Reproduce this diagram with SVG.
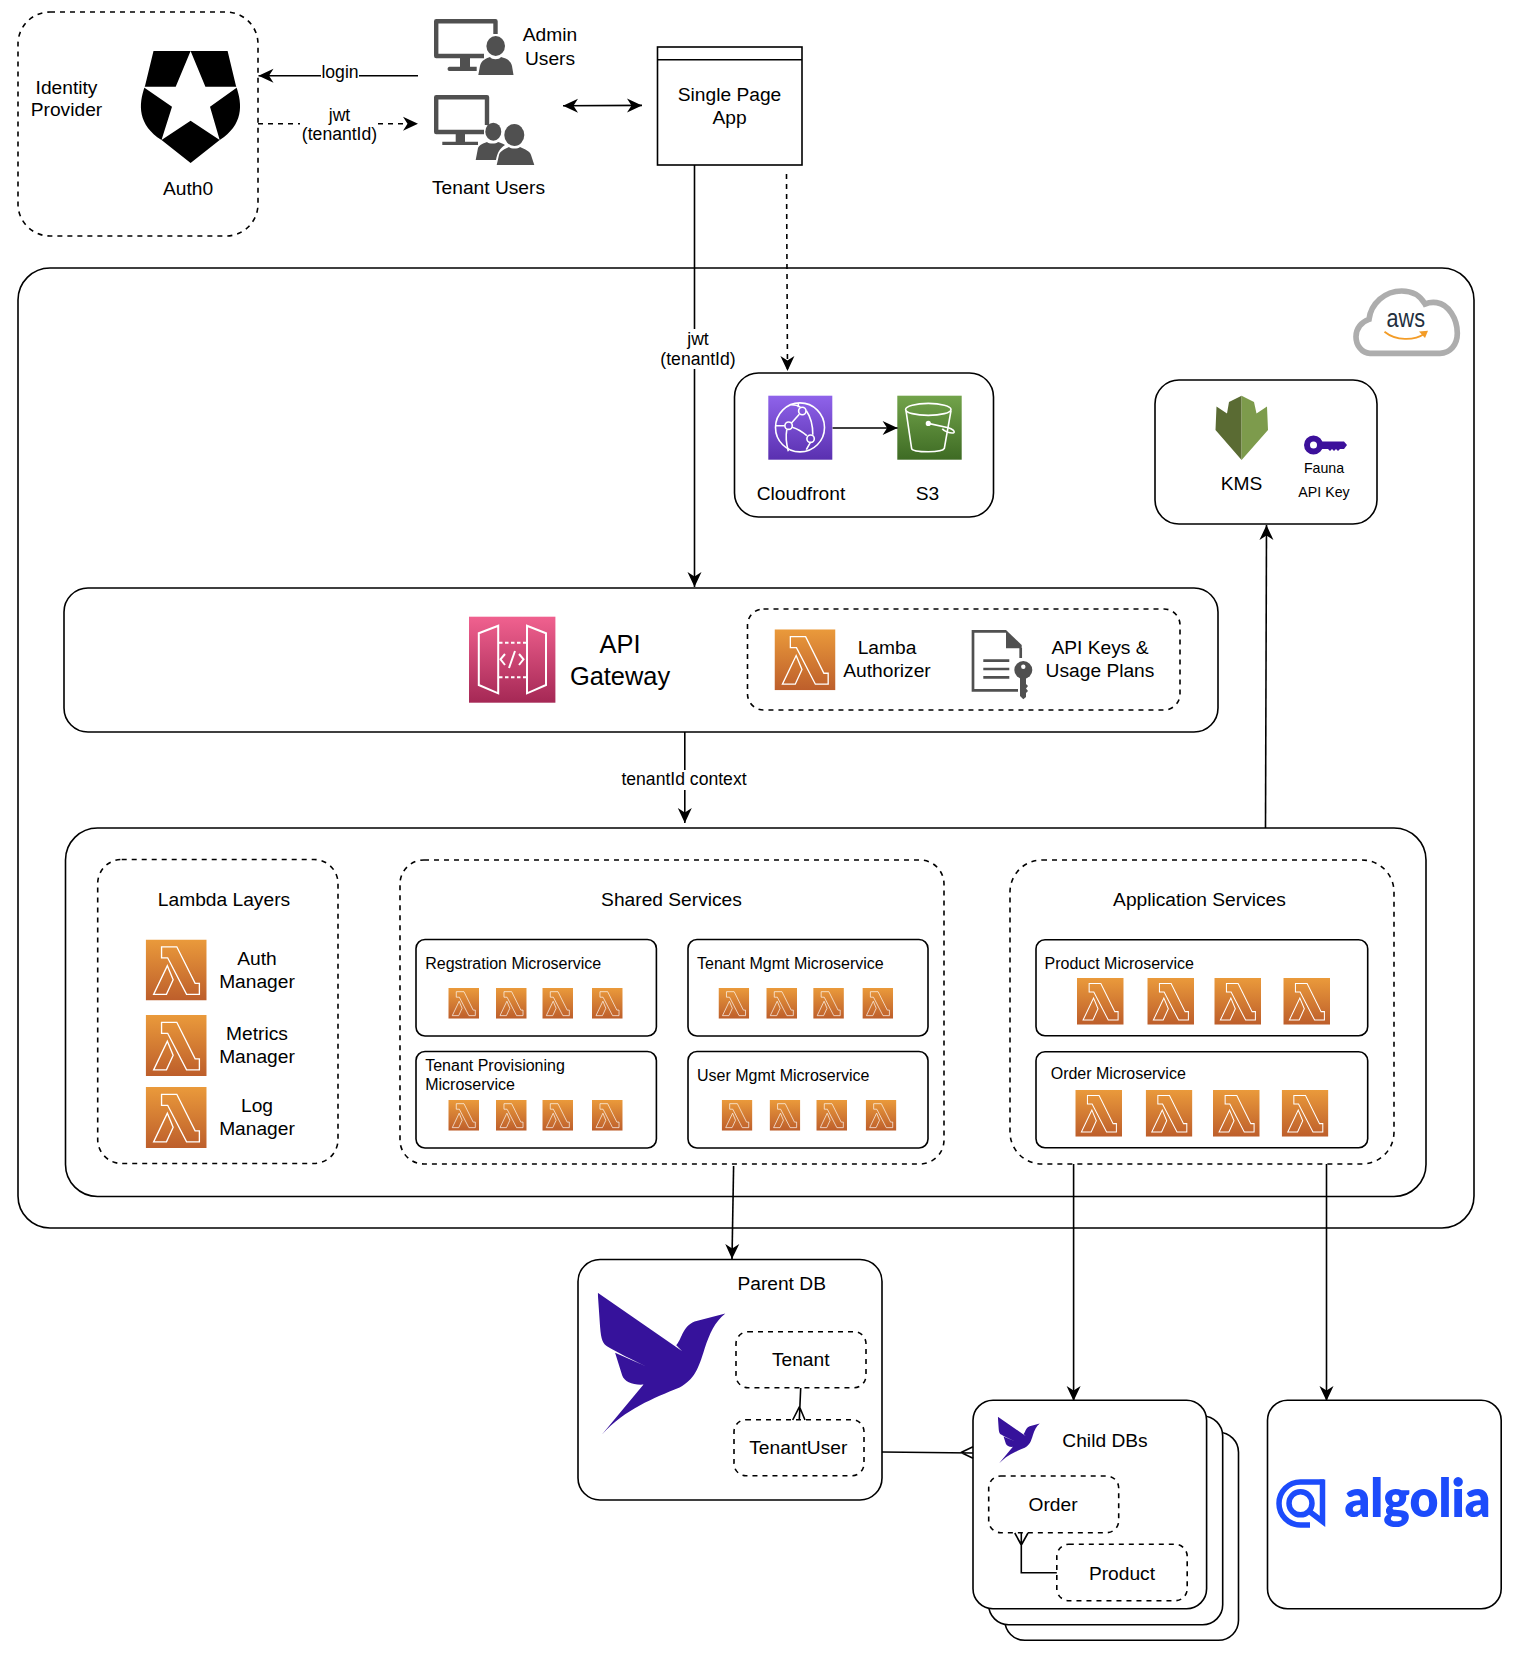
<svg xmlns="http://www.w3.org/2000/svg" width="1522" height="1654" viewBox="0 0 1522 1654">
<style>
text{font-family:"Liberation Sans",Arial,sans-serif;fill:#000;dominant-baseline:central}
.c{text-anchor:middle}
.f19{font-size:19.2px}.f17{font-size:17.6px}.f16{font-size:16px}.f14{font-size:14.2px}.f24{font-size:25.400px}
.box{fill:#fff;stroke:#000;stroke-width:1.6}
.dash{fill:#fff;stroke:#000;stroke-width:1.6;stroke-dasharray:5 5}
.ln{fill:none;stroke:#000;stroke-width:1.6}
.lnd{fill:none;stroke:#000;stroke-width:1.6;stroke-dasharray:5 5}
.gl{fill:none;stroke:#fff;stroke-width:1.6;stroke-linejoin:miter}
.gray{fill:#505050}
</style>
<defs>
<linearGradient id="gO" x1="0" y1="0" x2="0" y2="1"><stop offset="0" stop-color="#EA9A3B"/><stop offset="1" stop-color="#BD5E2B"/></linearGradient>
<linearGradient id="gP" x1="0" y1="0" x2="0" y2="1"><stop offset="0" stop-color="#8F63EA"/><stop offset="1" stop-color="#5A30B0"/></linearGradient>
<linearGradient id="gG" x1="0" y1="0" x2="0" y2="1"><stop offset="0" stop-color="#72A34A"/><stop offset="1" stop-color="#3E6B24"/></linearGradient>
<linearGradient id="gK" x1="0" y1="0" x2="0" y2="1"><stop offset="0" stop-color="#F0618F"/><stop offset="1" stop-color="#A52855"/></linearGradient>
<symbol id="lambda" viewBox="0 0 100 100">
<rect width="100" height="100" fill="url(#gO)"/>
<path d="M26 12H51L81 72H88V90H67L36 30H26ZM35.500 43L45 66L34 90H13Z" fill="none" stroke="#fff" stroke-width="2.200"/>
</symbol>
<symbol id="bird" viewBox="85 128 382 425">
<path fill="#36129B" d="M85 128L338 303L320 285C340 260 338 230 375 214L467 190C435 215 420 250 405 295C385 360 375 385 330 412C250 445 170 475 97 553L222 403C190 405 165 395 158 375L137 308L232 350C190 330 140 305 115 290C100 280 95 270 92 230Z"/>
</symbol>
<marker id="ah" viewBox="-16 -8 18 16" refX="0" refY="0" markerWidth="18" markerHeight="16" markerUnits="userSpaceOnUse" orient="auto">
<path d="M-15 -7L0 0L-15 7L-10.500 0Z" fill="#000"/>
</marker>
<marker id="ahs" viewBox="-16 -8 18 16" refX="0" refY="0" markerWidth="18" markerHeight="16" markerUnits="userSpaceOnUse" orient="auto-start-reverse">
<path d="M-15 -7L0 0L-15 7L-10.500 0Z" fill="#000"/>
</marker>
</defs>

<g id="identity-provider">
<rect class="dash" x="18" y="12" width="240" height="224" rx="32"/>
<text class="f19 c" x="66.500" y="87">Identity</text>
<text class="f19 c" x="66.500" y="109">Provider</text>
<path fill="#000" d="M153.500 51H227.600L236 86C243 105 243 125 219.700 140L190.600 163L161.500 140C138 125 138 105 145 86Z"/>
<path fill="#fff" d="M190.600 51L205.400 86.700H238L210 106.700L219.700 140L190.600 120.700L161.500 140L172 106.700L143 86.700H175.700Z"/>
<text class="f19 c" x="188" y="188.500">Auth0</text>
</g>

<g id="admin-users">
<path fill="none" stroke="#505050" stroke-width="4.400" stroke-linejoin="round" d="M495.500 34V21.200H436.200V56H484"/>
<path class="gray" d="M460 58H470V66.700H476.700V71H449.500C447 71 447 66.700 449.500 66.700H460Z"/>
<ellipse class="gray" cx="495.700" cy="46" rx="9.300" ry="10"/>
<path class="gray" d="M478.300 75L480 66C481 60 487 58 490 57C492 60 499 60 501 57C505 58 511 60 512 66L513.500 75Z"/>
<text class="f19 c" x="550" y="34">Admin</text>
<text class="f19 c" x="550" y="58">Users</text>
</g>

<g id="tenant-users">
<path fill="none" stroke="#505050" stroke-width="4.400" stroke-linejoin="round" d="M487 125V97.200H436.200V132H484"/>
<path class="gray" d="M455.700 134H465V141.700H478V145H442.300V141.700H455.700Z"/>
<ellipse class="gray" cx="493.300" cy="131.700" rx="8" ry="9"/>
<path class="gray" d="M475.700 160L478 148C479 145 484 143 487 142C489 144 496 144 498 142C500 142.500 503 143.500 505 145C500 148 497 153 496 160Z"/>
<ellipse class="gray" cx="514.300" cy="135" rx="10" ry="11"/>
<path class="gray" d="M496.700 165L499 155C500 151 505 149 509 147C511 149 518 149 520 147C524 149 530 151 531 155L534.300 165Z"/>
<text class="f19 c" x="488.500" y="187">Tenant Users</text>
</g>

<g id="single-page-app">
<rect class="box" x="657.500" y="47" width="144.500" height="118"/>
<path class="ln" d="M657.500 59.700H802"/>
<text class="f19 c" x="729.500" y="94">Single Page</text>
<text class="f19 c" x="729.500" y="117">App</text>
</g>

<g id="aws-cloud">
<rect class="box" x="18" y="268" width="1456" height="960" rx="32"/>
<path transform="translate(1345 280) scale(.3333)" fill="none" stroke="#ADADAD" stroke-width="17" d="M75 220C50 220 33 195 33 170C33 145 50 125 72 118C78 70 120 33 170 33C200 33 225 45 240 72C250 68 262 66 275 68C310 73 337 115 337 160C337 195 315 220 285 220Z"/>
<text x="1386.500" y="326.700" font-size="25.700" textLength="38.500" lengthAdjust="spacingAndGlyphs" style="fill:#232F3E;dominant-baseline:alphabetic">aws</text>
<path fill="none" stroke="#F39C27" stroke-width="1.800" d="M1384.500 331.700C1396 341 1414 341 1425 333.500"/>
<path fill="#F39C27" d="M1419 331.500L1428 330.700L1425 338Z"/>
</g>

<g id="cdn">
<rect class="box" x="734.500" y="373" width="259" height="144" rx="24"/>
<rect x="768.300" y="395.700" width="64" height="64" fill="url(#gP)"/>
<g class="gl" transform="translate(768.300 395.700)">
<circle cx="31.700" cy="31.700" r="24.500"/>
<circle cx="34" cy="15.300" r="3.700"/><circle cx="20.300" cy="30" r="3.700"/><circle cx="42.300" cy="43" r="3.700"/>
<path d="M31 18.500L23 27.500M24 31.500C29 33 34 36 38.500 40M38 15C43 22 44.500 30 44.500 39M18.500 34C17 42 18.500 50 20 55.500M42 47L38 54M7 30H16.500M30 7.500V11.500M23 9C27 9 30 10 32 11.500"/>
</g>
<rect x="897.300" y="395.700" width="64.400" height="64" fill="url(#gG)"/>
<g class="gl" transform="translate(897.300 395.700)">
<ellipse cx="31" cy="13.700" rx="22.700" ry="6"/>
<path d="M8.700 15L14.300 52.700C15 55 23 56 31 56C39 56 46 55 47 52.700L53.700 15"/>
<circle cx="31" cy="27.700" r="1.800" fill="#fff"/>
<path d="M31 27.700L51 32C55 33 58 36 56.500 37C54 38 47 36 45 33"/>
</g>
<text class="f19 c" x="801" y="493">Cloudfront</text>
<text class="f19 c" x="927.500" y="493">S3</text>
</g>

<g id="kms">
<rect class="box" x="1155" y="380" width="222" height="144" rx="24"/>
<path fill="#5A6B33" d="M1241.600 395.700L1229 402L1227 413.500L1216.500 406.500L1215.500 430L1241.600 460Z"/>
<path fill="#7D9B4C" d="M1241.600 395.700L1254 402L1256.500 413.500L1267 406.500L1268 430L1241.600 460Z"/>
<text class="f19 c" x="1241.500" y="483">KMS</text>
<circle cx="1313.500" cy="445" r="6.500" fill="#fff" stroke="#3C109B" stroke-width="6"/>
<path fill="#3C109B" d="M1318 441.500H1344L1347 445L1344 449H1340L1338 451L1336 449L1334 451L1332 449L1330 451L1328 449H1318Z"/>
<text class="f14 c" x="1324" y="468">Fauna</text>
<text class="f14 c" x="1324" y="492">API Key</text>
</g>

<g id="api-gateway">
<rect class="box" x="64" y="588" width="1154" height="144" rx="24"/>
<rect x="469" y="616.700" width="86.400" height="86" fill="url(#gK)"/>
<path fill="none" stroke="#fff" stroke-width="2" d="M498.200 625.700V693.300L478.800 685V633.300ZM527 625.700V693.300L546 685V633.300Z"/>
<path fill="none" stroke="#fff" stroke-width="2" stroke-dasharray="3.500 2.500" d="M499 642.700H527M499 677.300H527"/>
<path fill="none" stroke="#fff" stroke-width="2" d="M505 654L500.500 659.300L505 665M519 654L523.500 659.300L519 665M515 651L509 668"/>
<text class="f24 c" x="620" y="644">API</text>
<text class="f24 c" x="620" y="675.500">Gateway</text>
</g>

<g id="api-gateway-extras">
<rect class="dash" x="747.500" y="609" width="432.500" height="101" rx="16"/>
<use href="#lambda" x="774.500" y="629.300" width="61" height="61"/>
<text class="f19 c" x="887" y="647">Lamba</text>
<text class="f19 c" x="887" y="670">Authorizer</text>
<path fill="none" stroke="#505050" stroke-width="2.700" d="M1020.700 648V658M1006 631.300H973V690.400H1018"/>
<path fill="#505050" d="M1006 630L1021.700 645V648.300H1006Z"/>
<path fill="none" stroke="#505050" stroke-width="2.700" d="M983.300 660.700H1009.300M983.300 669H1009.300M983.300 677.300H1009.300"/>
<circle class="gray" cx="1023.300" cy="670" r="9"/>
<circle cx="1023.300" cy="666.700" r="2.200" fill="#fff"/>
<path class="gray" d="M1020 676H1026V684L1028 686L1026 688.500L1028 691L1026 693L1026 697L1023.300 699.300L1020 696Z"/>
<text class="f19 c" x="1100" y="647">API Keys &amp;</text>
<text class="f19 c" x="1100" y="670">Usage Plans</text>
</g>

<g id="services">
<rect class="box" x="65.500" y="828" width="1360.500" height="368.500" rx="32"/>
</g>

<g id="lambda-layers">
<rect class="dash" x="97.700" y="859.500" width="240.300" height="304" rx="24"/>
<text class="f19 c" x="224" y="899">Lambda Layers</text>
<use href="#lambda" x="145.700" y="939.500" width="61" height="61"/>
<use href="#lambda" x="145.700" y="1015" width="61" height="61"/>
<use href="#lambda" x="145.700" y="1087" width="61" height="61"/>
<text class="f19 c" x="257" y="958">Auth</text>
<text class="f19 c" x="257" y="981">Manager</text>
<text class="f19 c" x="257" y="1033">Metrics</text>
<text class="f19 c" x="257" y="1056">Manager</text>
<text class="f19 c" x="257" y="1105">Log</text>
<text class="f19 c" x="257" y="1128">Manager</text>
</g>

<g id="shared-services">
<rect class="dash" x="400" y="860" width="544" height="304" rx="24"/>
<text class="f19 c" x="671.500" y="899">Shared Services</text>
</g>

<g id="registration-microservice">
<rect class="box" x="416" y="939.500" width="240.400" height="96.500" rx="9"/>
<text class="f16" x="425.200" y="963">Regstration Microservice</text>
<use href="#lambda" x="448.300" y="988" width="30.700" height="30.700"/>
<use href="#lambda" x="496" y="988" width="30.700" height="30.700"/>
<use href="#lambda" x="542.300" y="988" width="30.700" height="30.700"/>
<use href="#lambda" x="592" y="988" width="30.700" height="30.700"/>
</g>

<g id="tenant-mgmt-microservice">
<rect class="box" x="688" y="939.500" width="240" height="96.500" rx="9"/>
<text class="f16" x="697" y="963">Tenant Mgmt Microservice</text>
<use href="#lambda" x="718.500" y="988" width="30.700" height="30.700"/>
<use href="#lambda" x="766.300" y="988" width="30.700" height="30.700"/>
<use href="#lambda" x="813.200" y="988" width="30.700" height="30.700"/>
<use href="#lambda" x="862.400" y="988" width="30.700" height="30.700"/>
</g>

<g id="tenant-provisioning-microservice">
<rect class="box" x="416" y="1051.500" width="240.400" height="96.500" rx="9"/>
<text class="f16" x="425.200" y="1065">Tenant Provisioning</text>
<text class="f16" x="425.200" y="1084">Microservice</text>
<use href="#lambda" x="448.300" y="1100" width="30.700" height="30.700"/>
<use href="#lambda" x="496" y="1100" width="30.700" height="30.700"/>
<use href="#lambda" x="542.300" y="1100" width="30.700" height="30.700"/>
<use href="#lambda" x="592" y="1100" width="30.700" height="30.700"/>
</g>

<g id="user-mgmt-microservice">
<rect class="box" x="688" y="1051.500" width="240" height="96.500" rx="9"/>
<text class="f16" x="697" y="1075">User Mgmt Microservice</text>
<use href="#lambda" x="721.700" y="1100" width="30.700" height="30.700"/>
<use href="#lambda" x="769.600" y="1100" width="30.700" height="30.700"/>
<use href="#lambda" x="816.300" y="1100" width="30.700" height="30.700"/>
<use href="#lambda" x="865.700" y="1100" width="30.700" height="30.700"/>
</g>

<g id="application-services">
<rect class="dash" x="1010" y="860" width="384" height="304" rx="32"/>
<text class="f19 c" x="1199.500" y="899.500">Application Services</text>
</g>

<g id="product-microservice">
<rect class="box" x="1036" y="939.700" width="331.700" height="96" rx="9"/>
<text class="f16" x="1044.500" y="963">Product Microservice</text>
<use href="#lambda" x="1077" y="978" width="46.700" height="46.700"/>
<use href="#lambda" x="1147.300" y="978" width="46.700" height="46.700"/>
<use href="#lambda" x="1214.300" y="978" width="46.700" height="46.700"/>
<use href="#lambda" x="1283.300" y="978" width="46.700" height="46.700"/>
</g>

<g id="order-microservice">
<rect class="box" x="1036" y="1051.700" width="331.700" height="96" rx="9"/>
<text class="f16" x="1050.700" y="1073.500">Order Microservice</text>
<use href="#lambda" x="1075.300" y="1090" width="46.700" height="46.700"/>
<use href="#lambda" x="1145.700" y="1090" width="46.700" height="46.700"/>
<use href="#lambda" x="1213" y="1090" width="46.700" height="46.700"/>
<use href="#lambda" x="1281.700" y="1090" width="46.700" height="46.700"/>
</g>

<g id="parent-db">
<rect class="box" x="578" y="1259.500" width="304" height="240.500" rx="22"/>
<text class="f19 c" x="781.700" y="1283">Parent DB</text>
<use href="#bird" x="597.700" y="1292.700" width="127.700" height="142"/>
</g>
<g id="tenant">
<rect class="dash" x="736" y="1331.700" width="130" height="56" rx="12"/>
<text class="f19 c" x="800.700" y="1359">Tenant</text>
</g>
<g id="tenant-user">
<rect class="dash" x="734" y="1419.700" width="130" height="56" rx="12"/>
<text class="f19 c" x="798.300" y="1447">TenantUser</text>
</g>

<g id="child-dbs">
<rect class="box" x="1004.800" y="1432.300" width="233.700" height="208" rx="20"/>
<rect class="box" x="988.700" y="1416" width="234" height="208.700" rx="20"/>
<rect class="box" x="973" y="1400.300" width="233.600" height="208.400" rx="20"/>
<use href="#bird" x="997.600" y="1416.700" width="42.400" height="46.600"/>
<text class="f19 c" x="1105" y="1440">Child DBs</text>
</g>
<g id="order">
<rect class="dash" x="988.700" y="1476" width="130" height="56.700" rx="12"/>
<text class="f19 c" x="1053" y="1504.500">Order</text>
</g>
<g id="product">
<rect class="dash" x="1056.800" y="1544.300" width="130.400" height="56.400" rx="12"/>
<text class="f19 c" x="1122" y="1573">Product</text>
</g>

<g id="algolia">
<rect class="box" x="1267.500" y="1400.300" width="233.700" height="208.400" rx="20"/>
<path fill="none" stroke="#1C4BFB" stroke-width="5.500" d="M1324 1482H1300.500A21.500 21.500 0 0 0 1300.500 1525H1310"/>
<path fill="none" stroke="#1C4BFB" stroke-width="5.500" d="M1322.500 1479.500V1521.500L1309.500 1511.500"/>
<circle cx="1300.500" cy="1503.300" r="11.500" fill="none" stroke="#1C4BFB" stroke-width="5.500"/>
<text x="1344.500" y="1517" font-size="52" font-weight="800" textLength="146" lengthAdjust="spacingAndGlyphs" style="font-family:Lato,'Liberation Sans',sans-serif;fill:#1C4BFB;dominant-baseline:alphabetic">algolia</text>
</g>

<g id="connectors">
<path class="ln" d="M418 75.700H258.500" marker-end="url(#ah)"/>
<rect x="321" y="64" width="38" height="18" fill="#fff"/>
<text class="f17 c" x="340" y="72">login</text>
<path class="lnd" d="M258 123.700H418" marker-end="url(#ah)"/>
<rect x="300" y="105" width="78" height="40" fill="#fff"/>
<text class="f17 c" x="339.500" y="115">jwt</text>
<text class="f17 c" x="339.500" y="134">(tenantId)</text>
<path class="ln" d="M563 105.700L642 105.400" marker-start="url(#ahs)" marker-end="url(#ah)"/>
<path class="ln" d="M694.500 165V587" marker-end="url(#ah)"/>
<rect x="658" y="329" width="80" height="40" fill="#fff"/>
<text class="f17 c" x="698" y="339">jwt</text>
<text class="f17 c" x="698" y="359">(tenantId)</text>
<path class="lnd" d="M786.500 174L787.500 371" marker-end="url(#ah)"/>
<path class="ln" d="M832.600 428H897.600" marker-end="url(#ah)"/>
<path class="ln" d="M684.800 732V823" marker-end="url(#ah)"/>
<rect x="618" y="770" width="132" height="20" fill="#fff"/>
<text class="f17 c" x="684" y="779">tenantId context</text>
<path class="ln" d="M1265.500 828L1266.500 525" marker-end="url(#ah)"/>
<path class="ln" d="M733.600 1166L732 1259" marker-end="url(#ah)"/>
<path class="ln" d="M1073.600 1164V1401" marker-end="url(#ah)"/>
<path class="ln" d="M1326.500 1164V1401" marker-end="url(#ah)"/>
<path class="ln" d="M800.700 1388L799.300 1420M799.500 1406.700L792.700 1420M799.500 1406.700L805 1420"/>
<path class="ln" d="M882 1452L973 1453M961 1452.500L973 1446.700M961 1452.500L973 1458.300"/>
<path class="ln" d="M1056.800 1572.700H1021.300V1533M1021.300 1545L1014.800 1533M1021.300 1545L1028 1533"/>
</g>
</svg>
